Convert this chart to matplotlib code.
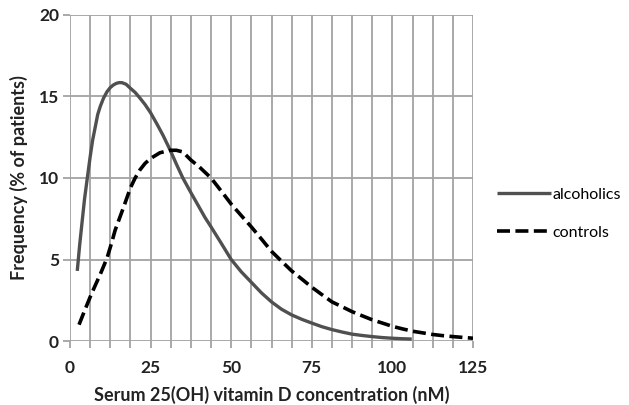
import matplotlib
matplotlib.use("Agg")
import matplotlib.pyplot as plt
import numpy as np

# values (nM, % of patients)
alc_x = [2.25, 3.0, 3.8, 4.5, 5.3, 6.25, 7.0, 7.9, 8.6, 9.4, 10.4, 11.5, 12.5, 13.4, 14.3, 15.2,
         16.1, 17.4, 18.75, 20.2, 21.7, 23.3, 25, 27.0, 28.9, 31.1, 33.0, 35, 37.5, 39.8, 41.8,
         43.75, 46.9, 50, 53.1, 56.25, 59.4, 62.5, 65.6, 68.75, 71.9, 75, 78.1, 81.25, 84.4,
         87.5, 90.6, 93.75, 96.9, 100, 103, 106]
alc_y = [4.3, 5.9, 7.4, 8.7, 9.9, 11.3, 12.3, 13.2, 13.9, 14.4, 14.9, 15.3, 15.55, 15.7, 15.8,
         15.85, 15.85, 15.75, 15.5, 15.25, 14.9, 14.5, 14.0, 13.3, 12.6, 11.7, 10.85, 10.0, 9.1,
         8.3, 7.6, 7.0, 6.0, 5.0, 4.25, 3.6, 2.95, 2.4, 1.95, 1.6, 1.33, 1.1, 0.88, 0.7, 0.55,
         0.42, 0.34, 0.27, 0.21, 0.17, 0.14, 0.12]

ctl_x = [2.8, 4.5, 6.25, 7.8, 9.4, 11.5, 12.8, 14.0, 15.3, 16.6, 18.75, 20.2, 21.7, 23.3, 25,
         27.9, 31.1, 33.0, 35, 37.5, 40, 43.75, 46.9, 50, 53.1, 56.25, 59.4, 62.5, 65.6, 68.75,
         71.9, 75, 78.1, 81.25, 84.4, 87.5, 90.6, 93.75, 96.9, 100, 103, 106.25, 109.4, 112.5,
         115.6, 118.75, 121.9, 125]
ctl_y = [1.0, 1.85, 2.7, 3.4, 4.1, 5.1, 5.95, 6.8, 7.5, 8.2, 9.4, 10.0, 10.5, 10.9, 11.2,
         11.55, 11.7, 11.7, 11.6, 11.1, 10.7, 10.0, 9.2, 8.4, 7.7, 7.0, 6.25, 5.5, 4.9, 4.3,
         3.8, 3.3, 2.85, 2.4, 2.1, 1.8, 1.55, 1.3, 1.1, 0.9, 0.75, 0.6, 0.5, 0.4, 0.33, 0.27,
         0.22, 0.17]

series_names = ["alcoholics", "controls"]
x_ticks = [0, 25, 50, 75, 100, 125]
y_ticks = [0, 5, 10, 15, 20]

plt.rcParams['font.family'] = ['Lato', 'DejaVu Sans']

fig = plt.figure(figsize=(6.29, 4.05), dpi=100)
ax = fig.add_axes([0.1113, 0.158, 0.6407, 0.805])

grid_col = '#a3a3a3'
txt_col = '#222222'
ax.set_xlim(0, 125)
ax.set_ylim(0, 20)
ax.set_xticks(x_ticks)
ax.set_xticks(np.arange(0, 125.1, 6.25), minor=True)
ax.set_yticks(y_ticks)
ax.grid(True, which='both', color=grid_col, linewidth=1.3)
ax.set_axisbelow(True)
for s in ax.spines.values():
    s.set_visible(False)
ax.tick_params(which='both', color=grid_col, width=1.3, length=5, labelsize=12.5,
               labelcolor=txt_col)
ax.tick_params(axis='x', which='major', pad=9)
ax.tick_params(axis='y', pad=3)
for lab in ax.get_xticklabels() + ax.get_yticklabels():
    lab.set_fontweight('bold')

ax.plot(alc_x, alc_y, color='#505050', linewidth=2.4, solid_capstyle='butt',
        label=series_names[0])
ax.plot(ctl_x, ctl_y, color='black', linewidth=2.6, dashes=(3.6, 1.5),
        label=series_names[1])

ax.set_xlabel('Serum 25(OH) vitamin D concentration (nM)', fontsize=13,
              fontweight='bold', color=txt_col, labelpad=7)
ax.set_ylabel('Frequency (% of patients)', fontsize=13, fontweight='bold',
              color=txt_col, labelpad=8)

fig.legend(loc='center left', bbox_to_anchor=(0.79, 0.472), frameon=False,
           fontsize=11.5, handlelength=3.4, handletextpad=0.08, labelspacing=1.5,
           borderaxespad=0, borderpad=0)

fig.savefig('out.png', dpi=100)
